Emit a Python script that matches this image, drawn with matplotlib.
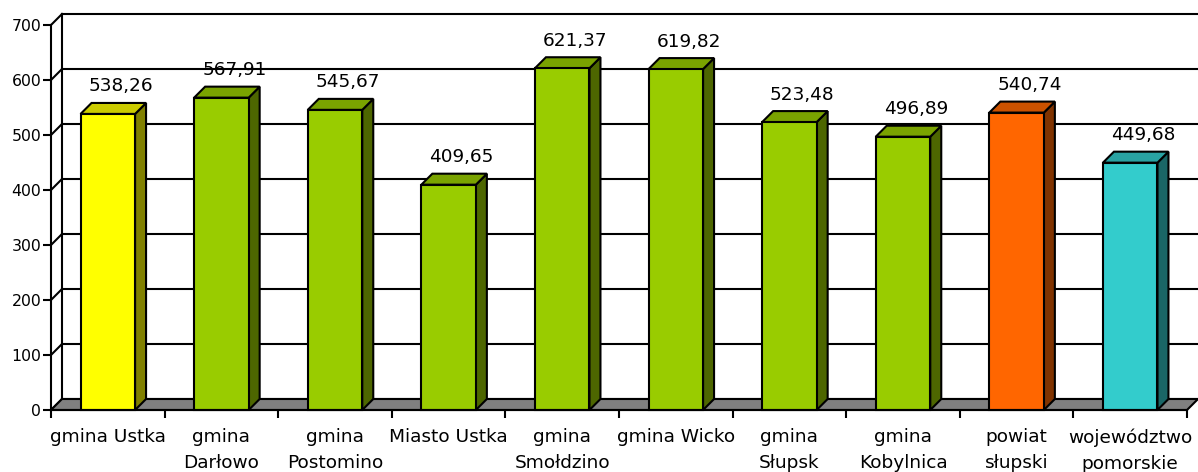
import matplotlib

matplotlib.use("Agg")

import matplotlib.pyplot as plt
from matplotlib.colors import to_rgb
from matplotlib.patches import Polygon, Rectangle

# data
categories = ["gmina Ustka", "gmina\nDarłowo", "gmina\nPostomino", "Miasto Ustka",
              "gmina\nSmołdzino", "gmina Wicko", "gmina\nSłupsk", "gmina\nKobylnica",
              "powiat\nsłupski", "województwo\npomorskie"]
values = [538.26, 567.91, 545.67, 409.65, 621.37, 619.82, 523.48, 496.89, 540.74, 449.68]
y_ticks = [0, 100, 200, 300, 400, 500, 600, 700]

# front face colours (top and side are shaded versions)
bar_colors = ["#FFFF00"] + ["#99CC00"] * 7 + ["#FF6600", "#33CCCC"]

W, H, DPI = 1198, 472, 100
fig = plt.figure(figsize=(W / DPI, H / DPI), dpi=DPI)
fig.patch.set_facecolor("white")

# front plane of the 3d box, in pixels
x0, x1, y0, y1 = 51, 1187, 410, 25
ax = fig.add_axes([x0 / W, (H - y0) / H, (x1 - x0) / W, (y0 - y1) / H])
ax.set_xlim(0, len(values))
ax.set_ylim(0, 700)
ax.set_facecolor("none")

# depth offset of the 3d effect (11 px right, 11 px up)
dx = 11 / ((x1 - x0) / len(values))
dy = 11 / ((y0 - y1) / 700)
n = len(values)
LW = 1.5


def shade(c, f):
    r, g, b = to_rgb(c)
    return (r * f, g * f, b * f)


# back wall: vertical edge, gridlines and the diagonals to the front axis
ax.plot([dx, dx], [dy, 700 + dy], color="black", lw=LW, clip_on=False, zorder=1)
for t in y_ticks:
    ax.plot([dx, n + dx], [t + dy, t + dy], color="black", lw=LW, clip_on=False, zorder=1)
    ax.plot([0, dx], [t, t + dy], color="black", lw=LW, clip_on=False, zorder=1)

# floor
ax.add_patch(Polygon([(0, 0), (n, 0), (n + dx, dy), (dx, dy)], closed=True,
                     facecolor="#808080", edgecolor="black", lw=LW, clip_on=False, zorder=2))

# 3d columns
hw = 0.24
for i, (v, col) in enumerate(zip(values, bar_colors)):
    c = i + 0.5
    ax.add_patch(Polygon([(c + hw, 0), (c + hw + dx, dy), (c + hw + dx, v + dy), (c + hw, v)],
                         closed=True, facecolor=shade(col, 0.5), edgecolor="black",
                         lw=LW, clip_on=False, zorder=3))
    ax.add_patch(Polygon([(c - hw, v), (c + hw, v), (c + hw + dx, v + dy), (c - hw + dx, v + dy)],
                         closed=True, facecolor=shade(col, 0.8), edgecolor="black",
                         lw=LW, clip_on=False, zorder=3))
    ax.add_patch(Rectangle((c - hw, 0), 2 * hw, v, facecolor=col, edgecolor="black",
                           lw=LW, clip_on=False, zorder=4))
    ax.text(c + 0.114, v + dy + 21, f"{v:.2f}".replace(".", ","), ha="center",
            va="baseline", fontsize=13.3, color="black", zorder=5)

# axes
for s in ("top", "right"):
    ax.spines[s].set_visible(False)
ax.spines["left"].set_linewidth(LW)
ax.spines["bottom"].set_linewidth(LW)
ax.spines["left"].set_zorder(6)
ax.spines["bottom"].set_zorder(6)

ax.set_yticks(y_ticks)
ax.tick_params(axis="y", direction="out", length=5.5, width=LW, pad=1.5, labelsize=11.3)

ax.set_xticks(range(n + 1))
ax.set_xticklabels([])
ax.tick_params(axis="x", which="major", direction="out", length=6, width=LW)
ax.set_xticks([i + 0.5 for i in range(n)], minor=True)
ax.set_xticklabels(categories, minor=True, fontsize=13.3, linespacing=1.6)
ax.tick_params(axis="x", which="minor", length=0, pad=13)

fig.savefig("out.png", dpi=DPI)
